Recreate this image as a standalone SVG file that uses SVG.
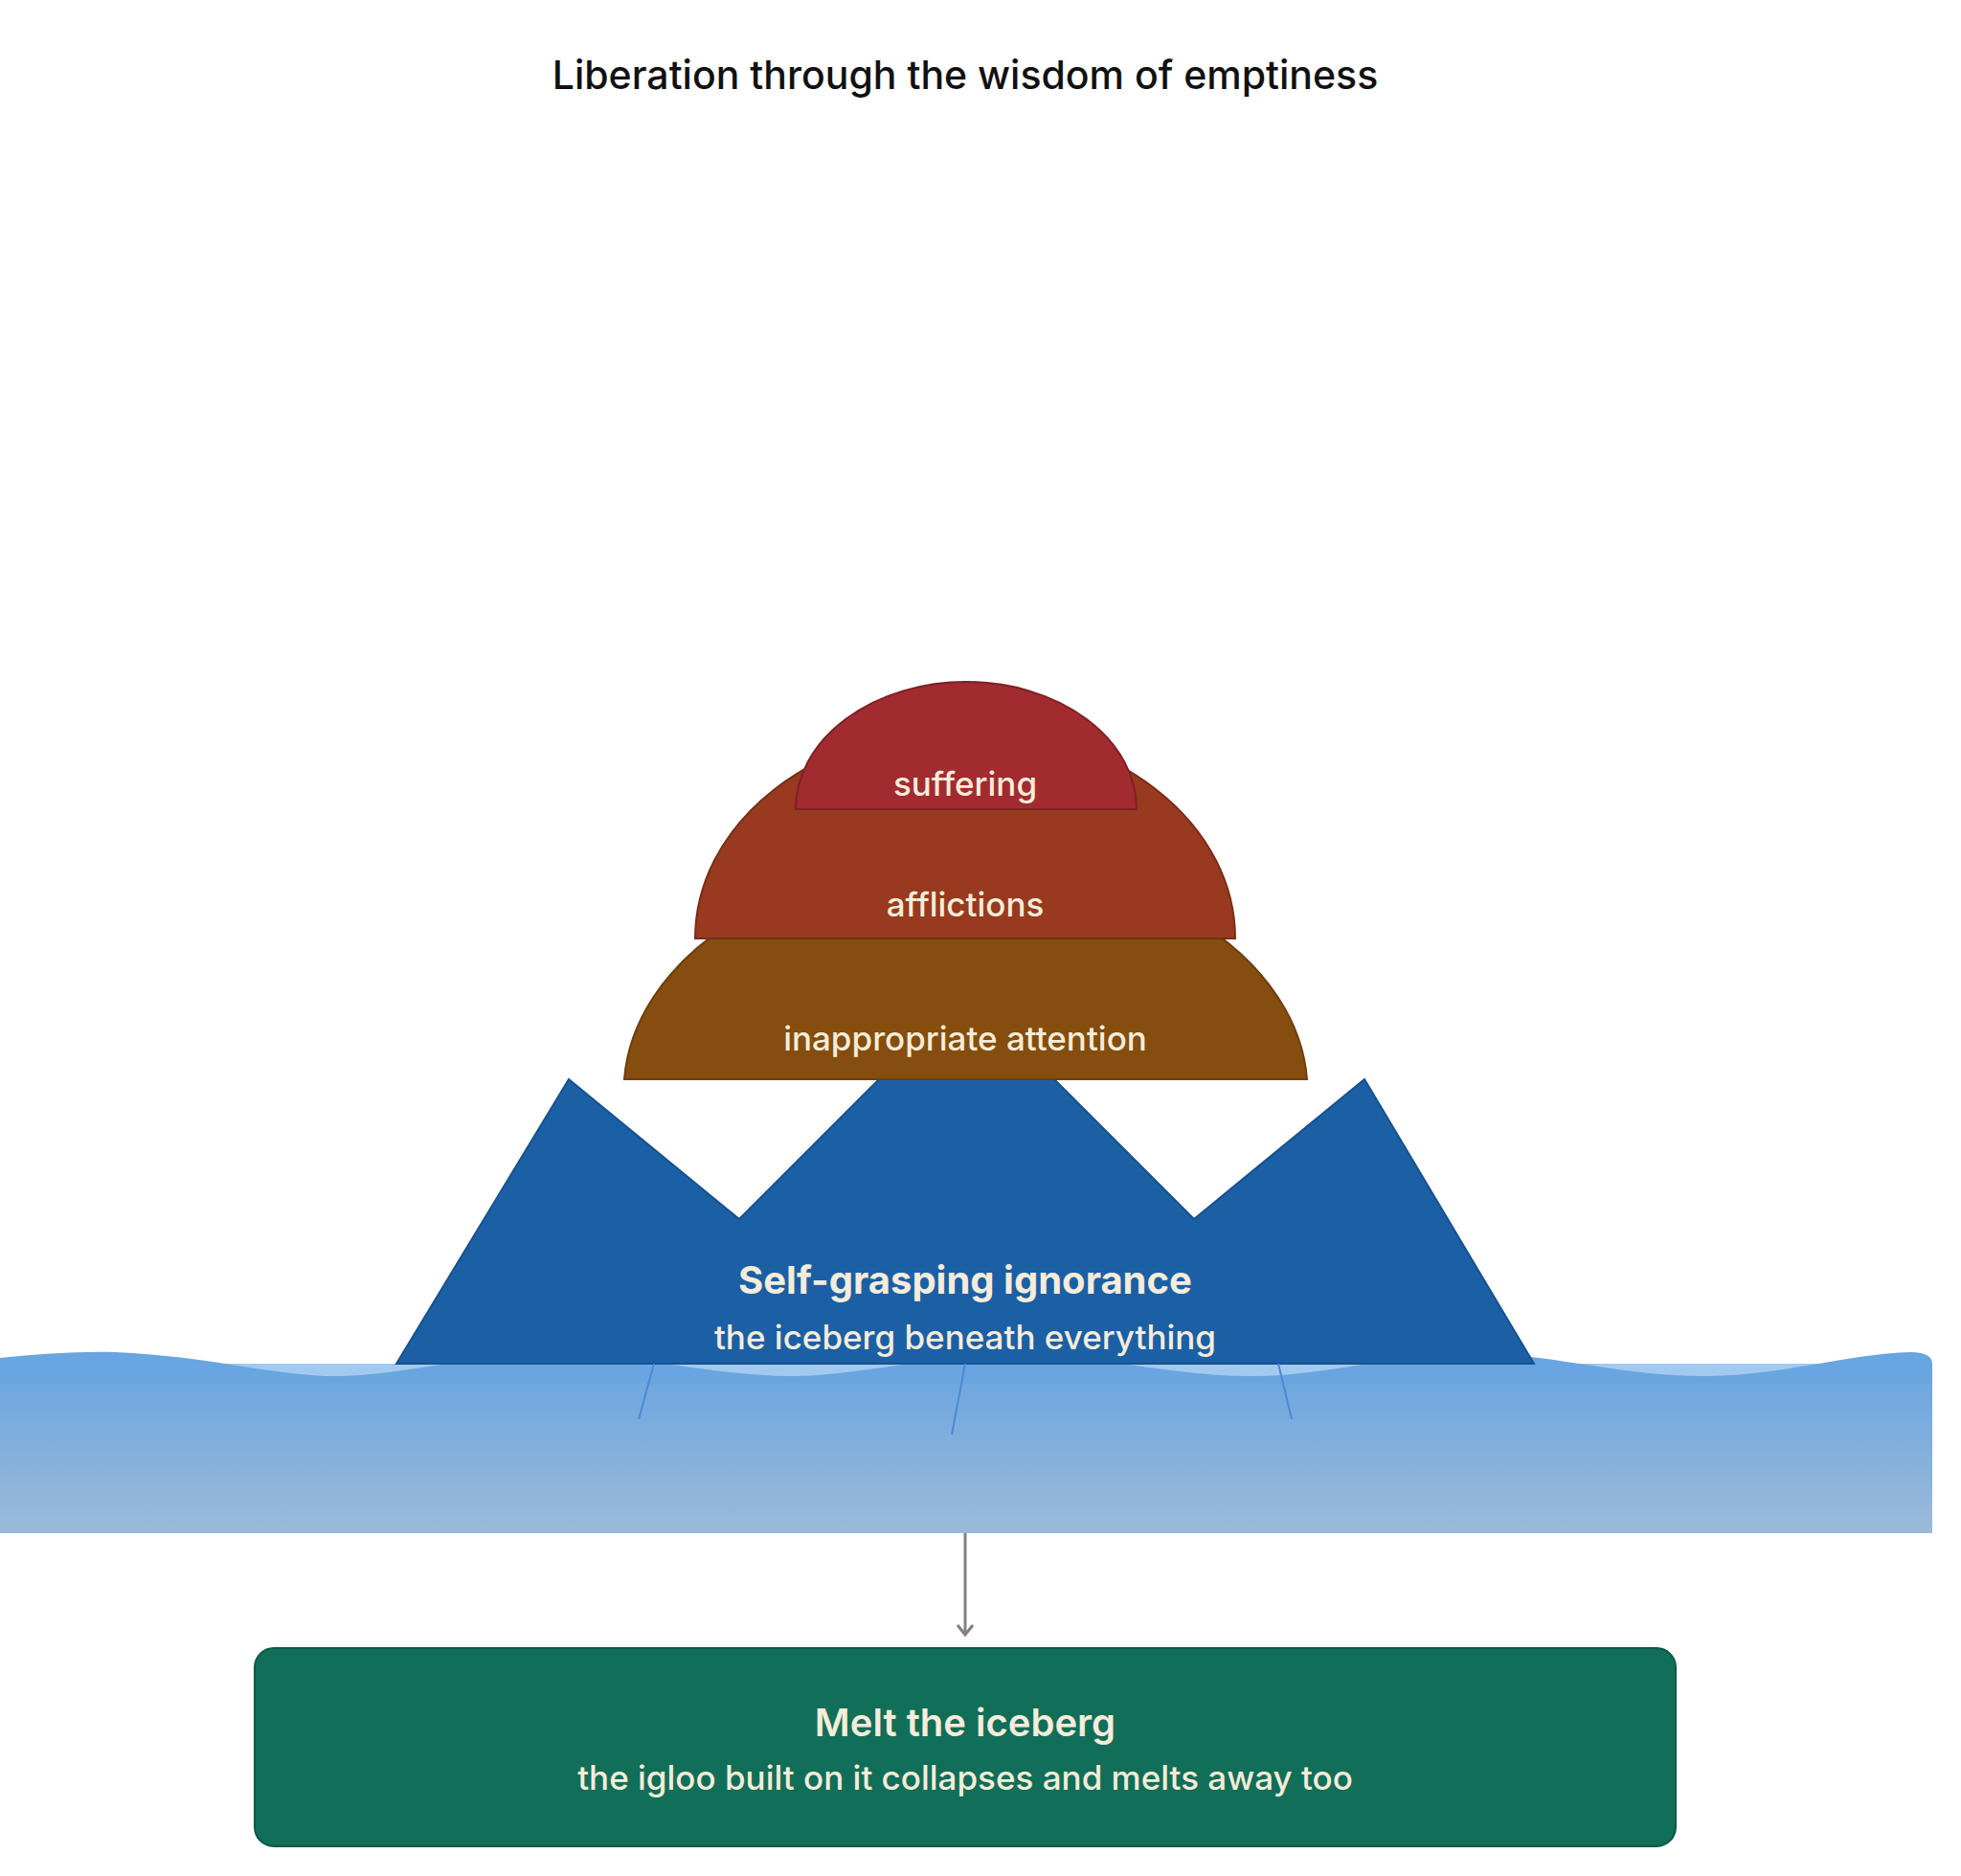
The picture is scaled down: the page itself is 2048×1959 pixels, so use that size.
<svg xmlns="http://www.w3.org/2000/svg" width="2048" height="1959" viewBox="0 0 2048 1959">
<defs>
<linearGradient id="water" x1="0" y1="0" x2="0" y2="1"><stop offset="0" stop-color="#69a5e0"/><stop offset="1" stop-color="#9bbad9"/></linearGradient>
<marker id="arr" viewBox="0 0 20 20" refX="16" refY="10" markerWidth="20" markerHeight="20" markerUnits="userSpaceOnUse" orient="auto"><path d="M6 2 L16 10 L6 18" fill="none" stroke="#808080" stroke-width="3"/></marker>
<style>
text{font-family:Inter,"Liberation Sans",sans-serif;text-anchor:middle;dominant-baseline:central}
.lbl{fill:#f5ecd9;font-size:35px;font-weight:500}
.big{fill:#f5ecd9;font-size:40px;font-weight:700}
</style>
</defs>
<text x="1008" y="78" font-size="41" font-weight="500" fill="#111">Liberation through the wisdom of emptiness</text>
<g id="water-body">
<rect x="0" y="1424" width="2018" height="177" fill="url(#water)"/>
<rect x="0" y="1424" width="2018" height="16" fill="#a2c9ef"/>
<path d="M0 1418 C40 1414 80 1411 120 1412 C220 1416 290 1438 355 1437 C420 1436 480 1416 590 1413 C660 1414 750 1438 830 1437 C900 1436 980 1414 1070 1413 C1150 1416 1230 1438 1310 1437 C1390 1436 1450 1414 1550 1413 C1630 1416 1700 1438 1785 1437 C1860 1436 1930 1414 1995 1412 C2010 1412 2018 1416 2018 1424 L2018 1445 L0 1445 Z" fill="#69a5e0"/>
</g>
<g id="iceberg">
<polygon points="414,1424 594,1127 772,1273 918,1127 1101,1127 1247,1273 1425,1127 1602,1424" fill="#1b5fa5" stroke="#17528f" stroke-width="2"/>
<text class="big" x="1008" y="1336">Self-grasping ignorance</text>
<text class="lbl" x="1008" y="1396">the iceberg beneath everything</text>
</g>
<g id="cracks" stroke="#4a8ad6" stroke-width="2" fill="none">
<line x1="683" y1="1424" x2="667" y2="1482"/><line x1="1008" y1="1424" x2="994" y2="1498"/><line x1="1335" y1="1424" x2="1349" y2="1482"/>
</g>
<g id="inappropriate">
<path d="M652 1127 A357 242 0 0 1 1365 1127 Z" fill="#854d0e" stroke="#6e3f0b" stroke-width="2"/>
<text class="lbl" x="1008" y="1084">inappropriate attention</text>
</g>
<g id="afflictions">
<path d="M726 980 A282 220 0 0 1 1290 980 Z" fill="#973a1f" stroke="#7a2d18" stroke-width="2"/>
<text class="lbl" x="1008" y="944">afflictions</text>
</g>
<g id="suffering">
<path d="M831 845 A178 133 0 0 1 1187 845 Z" fill="#a12b2f" stroke="#7f2024" stroke-width="2"/>
<text class="lbl" x="1008" y="818">suffering</text>
</g>
<g id="connectors">
<line x1="1008" y1="1601" x2="1008" y2="1707" stroke="#808080" stroke-width="3" marker-end="url(#arr)"/>
</g>
<g id="melt">
<rect x="266" y="1721" width="1484" height="207" rx="20" fill="#116e58" stroke="#0c5947" stroke-width="2"/>
<text class="big" x="1008" y="1798" style="font-weight:600">Melt the iceberg</text>
<text class="lbl" x="1008" y="1856">the igloo built on it collapses and melts away too</text>
</g>
</svg>
